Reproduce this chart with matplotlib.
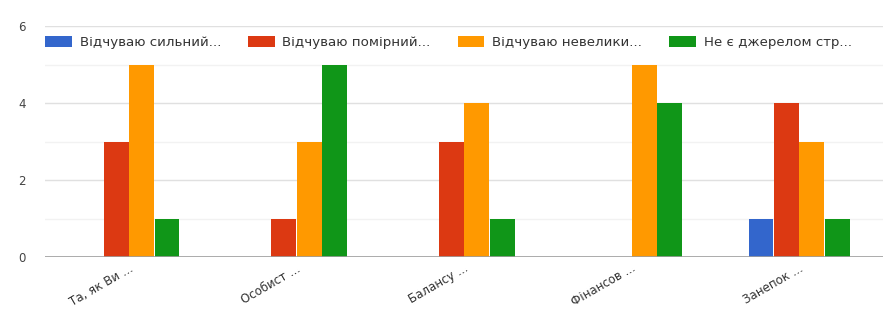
import matplotlib
matplotlib.use("Agg")
import matplotlib.pyplot as plt
import numpy as np

categories = ["Та, як Ви ...", "Особист ...", "Балансу ...", "Фінансов ...", "Занепок ..."]
series_names = ["Відчуваю сильний...", "Відчуваю помірний...", "Відчуваю невелики...", "Не є джерелом стр..."]
strong = [0, 0, 0, 0, 1]
moderate = [3, 1, 3, 0, 4]
small = [5, 3, 4, 5, 3]
none_ = [1, 5, 1, 4, 1]
colors = ["#3366CC", "#DC3912", "#FF9900", "#109618"]
yticks = [0, 2, 4, 6]

plt.rcParams['font.family'] = ['DejaVu Sans']
fig = plt.figure(figsize=(8.89, 3.19), dpi=100)
ax = fig.add_axes([45/889, (319-257)/319, (883-45)/889, (257-26)/319])

x = np.arange(len(categories))
bw = 0.152
series = [strong, moderate, small, none_]
for i, (vals, c, name) in enumerate(zip(series, colors, series_names)):
    ax.bar(x + (i - 1.5) * bw, vals, width=bw * 0.98, color=c, label=name, zorder=3)

ax.set_xlim(-0.5, len(categories) - 0.5)
ax.set_ylim(0, 6)
ax.set_yticks(yticks)
ax.set_yticks([1, 3, 5], minor=True)
ax.grid(axis='y', which='major', color='#e0e0e0', lw=1, zorder=0)
ax.grid(axis='y', which='minor', color='#f2f2f2', lw=1, zorder=0)
ax.axhline(0, color='#9e9e9e', lw=1.2, zorder=4)
for s in ax.spines.values():
    s.set_visible(False)
ax.tick_params(axis='both', which='both', length=0, colors='#444444', labelsize=8.5)
ax.tick_params(axis='y', pad=14)
ax.set_xticks(x)
ax.set_xticklabels(categories, rotation=30, ha='right', rotation_mode='anchor', fontsize=8.5, color='#333333')

ax.legend(loc='upper left', bbox_to_anchor=(0.0, 0.955), ncol=4, frameon=False,
          prop={'size': 9.6}, handlelength=2.0, handleheight=0.85,
          columnspacing=2.0, handletextpad=0.6, labelcolor='#333333',
          borderaxespad=0, borderpad=0)

fig.savefig("out.png", dpi=100, facecolor='white')
